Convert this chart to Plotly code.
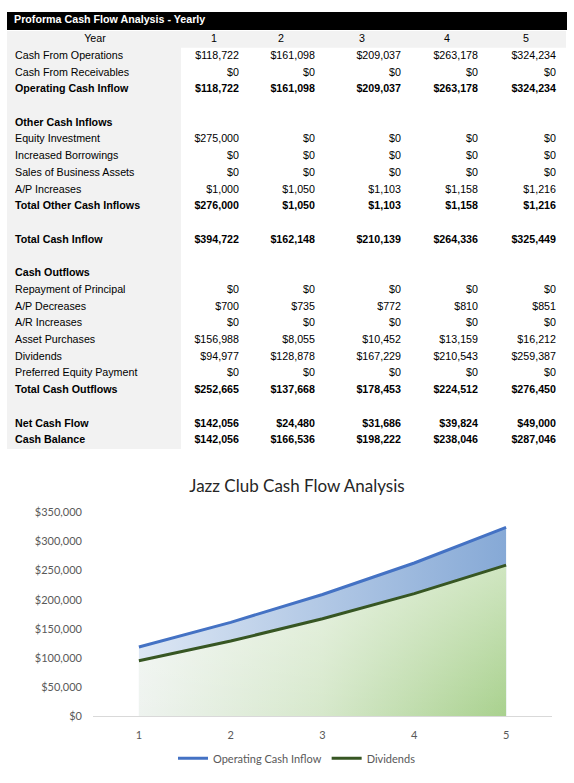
import plotly.graph_objects as go

# ---------------- data ----------------
years = [1, 2, 3, 4, 5]
table_title = "Proforma Cash Flow Analysis - Yearly"

row_labels = [
    "Cash From Operations", "Cash From Receivables", "Operating Cash Inflow", "",
    "Other Cash Inflows", "Equity Investment", "Increased Borrowings",
    "Sales of Business Assets", "A/P Increases", "Total Other Cash Inflows", "",
    "Total Cash Inflow", "",
    "Cash Outflows", "Repayment of Principal", "A/P Decreases", "A/R Increases",
    "Asset Purchases", "Dividends", "Preferred Equity Payment", "Total Cash Outflows", "",
    "Net Cash Flow", "Cash Balance",
]

cash_from_operations = [118722, 161098, 209037, 263178, 324234]
cash_from_receivables = [0, 0, 0, 0, 0]
operating_cash_inflow = [118722, 161098, 209037, 263178, 324234]
equity_investment = [275000, 0, 0, 0, 0]
increased_borrowings = [0, 0, 0, 0, 0]
sales_of_business_assets = [0, 0, 0, 0, 0]
ap_increases = [1000, 1050, 1103, 1158, 1216]
total_other_cash_inflows = [276000, 1050, 1103, 1158, 1216]
total_cash_inflow = [394722, 162148, 210139, 264336, 325449]
repayment_of_principal = [0, 0, 0, 0, 0]
ap_decreases = [700, 735, 772, 810, 851]
ar_increases = [0, 0, 0, 0, 0]
asset_purchases = [156988, 8055, 10452, 13159, 16212]
dividends = [94977, 128878, 167229, 210543, 259387]
preferred_equity_payment = [0, 0, 0, 0, 0]
total_cash_outflows = [252665, 137668, 178453, 224512, 276450]
net_cash_flow = [142056, 24480, 31686, 39824, 49000]
cash_balance = [142056, 166536, 198222, 238046, 287046]

row_values = [
    cash_from_operations, cash_from_receivables, operating_cash_inflow, None,
    None, equity_investment, increased_borrowings, sales_of_business_assets,
    ap_increases, total_other_cash_inflows, None,
    total_cash_inflow, None,
    None, repayment_of_principal, ap_decreases, ar_increases, asset_purchases,
    dividends, preferred_equity_payment, total_cash_outflows, None,
    net_cash_flow, cash_balance,
]

chart_title = "Jazz Club Cash Flow Analysis"
series_names = ["Operating Cash Inflow", "Dividends"]

# ---------------- styles / layout ----------------
bold_rows = {"Operating Cash Inflow", "Other Cash Inflows", "Total Other Cash Inflows",
             "Total Cash Inflow", "Cash Outflows", "Total Cash Outflows",
             "Net Cash Flow", "Cash Balance"}

BLUE = "#4472c4"
GREEN = "#375623"
W, H = 574, 783
TABLE_BOTTOM = 460
ROW0_Y = 50
ROW_STEP = 17
YEAR_Y = 33
TITLE_Y = 14
LABEL_X = 15
col_right = [239, 315, 401, 478, 556]
col_head = [214, 281, 362, 447, 526]
TFONT = "Liberation Sans, Arial, sans-serif"
CFONT = "Lato, Open Sans, sans-serif"
TSIZE = 10.7


def px_x(v):
    return v / W


def px_y(v):
    return 1 - v / H


def fmt(v):
    return "${:,.0f}".format(v)


def b(s, bold):
    return "<b>" + s + "</b>" if (bold and s) else s


fig = go.Figure()

# ---------- chart ----------
fig.add_trace(go.Scatter(
    x=years, y=operating_cash_inflow, name=series_names[0],
    mode="lines", line=dict(color=BLUE, width=3),
    fill="tozeroy",
    fillgradient=dict(type="horizontal",
                      colorscale=[[0, "#dde7f4"], [1, "#86a9d6"]]),
    xaxis="x", yaxis="y", hoverinfo="skip", showlegend=False,
))
# dividends area: horizontal green gradient
fig.add_trace(go.Scatter(
    x=years, y=dividends, name=series_names[1],
    mode="none", fill="tozeroy",
    fillgradient=dict(type="horizontal",
                      colorscale=[[0, "#eef3ef"], [0.5, "#d6e8cb"], [1, "#a9d18e"]]),
    xaxis="x", yaxis="y", hoverinfo="skip", showlegend=False,
))
# dividends line with light sheen towards the top (gives the diagonal look)
fig.add_trace(go.Scatter(
    x=years, y=dividends, name=series_names[1],
    mode="lines", line=dict(color=GREEN, width=3), fill="tozeroy",
    fillgradient=dict(type="vertical",
                      colorscale=[[0, "rgba(255,255,255,0)"],
                                  [1, "rgba(255,255,255,0.45)"]]),
    xaxis="x", yaxis="y", hoverinfo="skip", showlegend=False,
))
# legend entries (lines only, like the original)
for nm, col in zip(series_names, [BLUE, GREEN]):
    fig.add_trace(go.Scatter(
        x=[None], y=[None], name=nm, mode="lines", line=dict(color=col, width=3),
        xaxis="x", yaxis="y", hoverinfo="skip", showlegend=True,
    ))

# ---------- table text ----------
row_y = [ROW0_Y + ROW_STEP * i for i in range(len(row_labels))]

fig.add_trace(go.Scatter(
    x=[LABEL_X] * len(row_labels), y=row_y,
    text=[b(l, l in bold_rows) for l in row_labels],
    mode="text", textposition="middle right",
    textfont=dict(family=TFONT, size=TSIZE, color="#000000"),
    xaxis="x2", yaxis="y2", showlegend=False, hoverinfo="skip",
))

for ci in range(len(years)):
    texts = []
    for lab, vals in zip(row_labels, row_values):
        texts.append(b(fmt(vals[ci]), lab in bold_rows) if vals is not None else "")
    fig.add_trace(go.Scatter(
        x=[col_right[ci]] * len(row_labels), y=row_y, text=texts,
        mode="text", textposition="middle left",
        textfont=dict(family=TFONT, size=TSIZE, color="#000000"),
        xaxis="x2", yaxis="y2", showlegend=False, hoverinfo="skip",
    ))

# header row
fig.add_trace(go.Scatter(
    x=[95] + col_head, y=[YEAR_Y] * 6,
    text=["Year"] + [str(y) for y in years],
    mode="text", textposition="middle center",
    textfont=dict(family=TFONT, size=TSIZE, color="#000000"),
    xaxis="x2", yaxis="y2", showlegend=False, hoverinfo="skip",
))
fig.add_trace(go.Scatter(
    x=[LABEL_X - 1], y=[TITLE_Y], text=["<b>" + table_title + "</b>"],
    mode="text", textposition="middle right",
    textfont=dict(family=TFONT, size=TSIZE, color="#ffffff"),
    xaxis="x2", yaxis="y2", showlegend=False, hoverinfo="skip",
))

shapes = [
    dict(type="rect", xref="x2", yref="y2", x0=7, x1=181, y0=24.5,
         y1=ROW0_Y + ROW_STEP * (len(row_labels) - 1) + 8.5,
         fillcolor="#f2f2f2", line=dict(width=0), layer="below"),
    dict(type="rect", xref="x2", yref="y2", x0=7, x1=566, y0=24.5, y1=41.5,
         fillcolor="#f2f2f2", line=dict(width=0), layer="below"),
    dict(type="rect", xref="x2", yref="y2", x0=7, x1=567, y0=5, y1=23.5,
         fillcolor="#000000", line=dict(width=0), layer="below"),
]

fig.update_layout(
    width=W, height=H,
    margin=dict(l=0, r=0, t=0, b=0),
    paper_bgcolor="#ffffff", plot_bgcolor="rgba(0,0,0,0)",
    shapes=shapes,
    title=dict(text=chart_title, x=px_x(297), xanchor="center", xref="paper",
               y=px_y(487), yanchor="middle", yref="paper",
               font=dict(family=CFONT, size=17, color="#262626")),
    xaxis=dict(domain=[px_x(93), px_x(552)], range=[0.5, 5.5], tickvals=years,
               ticktext=[str(y) for y in years],
               showgrid=False, zeroline=False, showline=True,
               linecolor="#d9d9d9", linewidth=1, ticks="", ticklabelstandoff=9,
               tickfont=dict(family=CFONT, size=11, color="#595959"),
               fixedrange=True),
    yaxis=dict(domain=[px_y(721), px_y(514)], range=[0, 350000], dtick=50000,
               tickprefix="$", tickformat=",", showgrid=False, zeroline=False,
               showline=False, ticks="", ticklabelstandoff=10,
               tickfont=dict(family=CFONT, size=11, color="#595959"),
               fixedrange=True),
    xaxis2=dict(domain=[0, 1], range=[0, W], visible=False, fixedrange=True),
    yaxis2=dict(domain=[px_y(TABLE_BOTTOM), 1], range=[TABLE_BOTTOM, 0],
                visible=False, fixedrange=True),
    legend=dict(orientation="h", x=px_x(297), xanchor="center", y=px_y(764),
                yanchor="middle", font=dict(family=CFONT, size=11, color="#595959"),
                bgcolor="rgba(0,0,0,0)", itemwidth=30),
    showlegend=True,
)

fig.write_html(
    "out.html",
    config={"displayModeBar": False},
    post_script="document.body.style.margin='0';"
                "document.documentElement.style.overflow='hidden';",
)
